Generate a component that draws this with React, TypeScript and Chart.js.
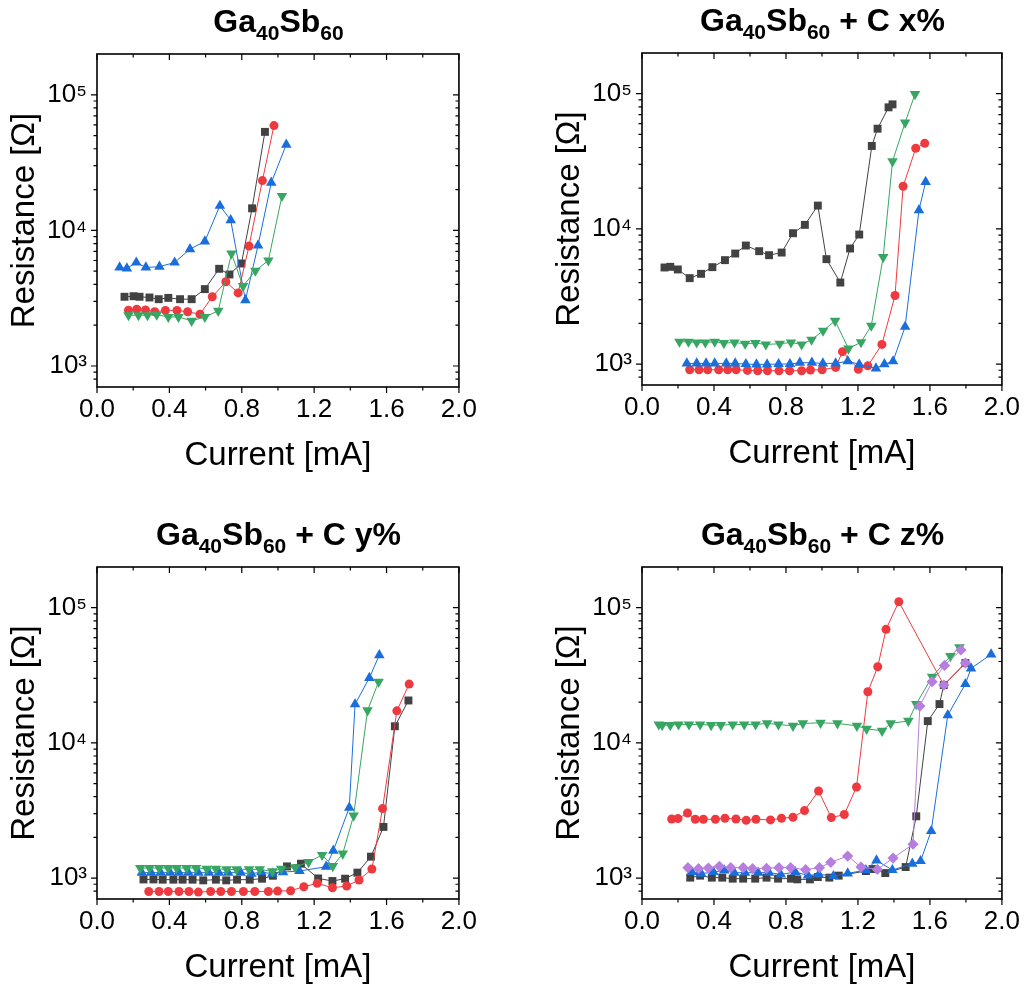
import React, { useEffect, useRef } from 'react';
import { Chart, registerables } from 'chart.js';

Chart.register(...registerables);

const FONT = "'Liberation Sans', Arial, Helvetica, sans-serif";

// ---------- axis definitions ----------
const xMin = 0;
const xMax = 2;
const yMin = 700;
const yMax = 200000;
const xTickValues = [0, 0.4, 0.8, 1.2, 1.6, 2.0];
const xTickLabels = ['0.0', '0.4', '0.8', '1.2', '1.6', '2.0'];
const xMinorTicks = [0.2, 0.6, 1.0, 1.4, 1.8];
const yTickValues = [1000, 10000, 100000];
const yTickLabels = ['10\u00B3', '10\u2074', '10\u2075'];
const yMinorTicks = [800, 900, 2000, 3000, 4000, 5000, 6000, 7000, 8000, 9000,
  20000, 30000, 40000, 50000, 60000, 70000, 80000, 90000];
const xTitle = 'Current [mA]';
const yTitle = 'Resistance [\u03A9]';
const panelTitleSuffix = ['', ' + C x%', ' + C y%', ' + C z%'];

// ---------- Panel A : Ga40Sb60 ----------
const A_black_x = [0.152, 0.202, 0.235, 0.29, 0.341, 0.394, 0.459, 0.523, 0.596, 0.675, 0.732, 0.798, 0.857, 0.928];
const A_black_y = [3240, 3270, 3240, 3200, 3110, 3180, 3110, 3110, 3690, 5210, 4730, 5700, 14550, 53300];
const A_red_x = [0.174, 0.220, 0.268, 0.319, 0.378, 0.442, 0.501, 0.569, 0.637, 0.712, 0.780, 0.840, 0.914, 0.978];
const A_red_y = [2580, 2620, 2590, 2510, 2570, 2570, 2510, 2410, 3240, 4180, 3460, 7660, 23300, 59300];
const A_blue_x = [0.125, 0.165, 0.217, 0.270, 0.345, 0.429, 0.514, 0.596, 0.679, 0.739, 0.820, 0.890, 0.963, 1.046];
const A_blue_y = [5330, 5240, 5800, 5330, 5400, 5800, 7280, 8300, 15200, 11900, 3060, 7750, 22500, 42950];
const A_green_x = [0.174, 0.229, 0.279, 0.330, 0.394, 0.450, 0.523, 0.596, 0.670, 0.743, 0.807, 0.875, 0.947, 1.022];
const A_green_y = [2370, 2370, 2370, 2390, 2300, 2300, 2150, 2300, 2550, 6760, 3880, 5040, 6000, 17950];

// ---------- Panel B : + C x% ----------
const B_black_x = [0.125, 0.157, 0.199, 0.265, 0.328, 0.391, 0.461, 0.518, 0.577, 0.651, 0.706, 0.776, 0.839, 0.905, 0.977, 1.025, 1.102, 1.156, 1.207, 1.277, 1.309, 1.370, 1.392];
const B_black_y = [5180, 5240, 5010, 4320, 4650, 5210, 5870, 6570, 7530, 6840, 6390, 6680, 9290, 10710, 14870, 5970, 4010, 7160, 9080, 41040, 55100, 79280, 83400];
const B_red_x = [0.265, 0.317, 0.365, 0.426, 0.476, 0.523, 0.586, 0.643, 0.697, 0.761, 0.820, 0.887, 0.936, 1.001, 1.076, 1.114, 1.202, 1.255, 1.333, 1.406, 1.451, 1.521, 1.571];
const B_red_y = [908, 908, 908, 908, 908, 908, 897, 893, 893, 893, 893, 893, 903, 908, 945, 1235, 916, 970, 1398, 3215, 20650, 39450, 42950];
const B_blue_x = [0.249, 0.304, 0.356, 0.404, 0.468, 0.518, 0.577, 0.636, 0.695, 0.759, 0.822, 0.877, 0.944, 1.005, 1.076, 1.143, 1.207, 1.300, 1.347, 1.395, 1.462, 1.539, 1.576];
const B_blue_y = [1011, 1011, 1011, 1011, 1011, 1011, 1000, 995, 995, 1000, 1000, 1023, 1023, 1011, 1011, 1050, 995, 928, 998, 1048, 1888, 13740, 22240];
const B_green_x = [0.208, 0.258, 0.304, 0.352, 0.404, 0.455, 0.514, 0.573, 0.630, 0.688, 0.765, 0.828, 0.887, 0.942, 1.006, 1.073, 1.147, 1.217, 1.274, 1.340, 1.392, 1.462, 1.517];
const B_green_y = [1462, 1462, 1445, 1445, 1462, 1429, 1445, 1413, 1429, 1397, 1413, 1445, 1397, 1513, 1763, 2090, 1300, 1450, 1920, 6180, 31620, 61100, 99400];

// ---------- Panel C : + C y% ----------
const C_black_x = [0.257, 0.312, 0.363, 0.422, 0.473, 0.528, 0.587, 0.657, 0.714, 0.774, 0.844, 0.912, 0.972, 1.050, 1.127, 1.222, 1.301, 1.371, 1.439, 1.514, 1.583, 1.646, 1.721];
const C_black_y = [977, 977, 973, 973, 973, 973, 962, 973, 962, 973, 973, 989, 1040, 1219, 1277, 994, 951, 989, 1097, 1440, 2390, 13270, 20590];
const C_red_x = [0.286, 0.343, 0.394, 0.453, 0.508, 0.560, 0.628, 0.684, 0.743, 0.809, 0.872, 0.947, 0.998, 1.070, 1.143, 1.217, 1.301, 1.380, 1.448, 1.519, 1.578, 1.657, 1.725];
const C_red_y = [796, 796, 796, 796, 796, 787, 796, 796, 796, 796, 796, 796, 801, 806, 863, 914, 848, 873, 967, 1166, 3266, 17260, 27230];
const C_blue_x = [0.248, 0.299, 0.352, 0.404, 0.453, 0.505, 0.560, 0.618, 0.673, 0.725, 0.794, 0.853, 0.908, 0.969, 1.028, 1.119, 1.266, 1.306, 1.394, 1.426, 1.505, 1.560];
const C_blue_y = [1096, 1096, 1096, 1096, 1096, 1096, 1096, 1096, 1096, 1096, 1096, 1077, 1107, 1077, 1107, 1127, 1213, 1594, 3319, 19300, 30270, 44580];
const C_green_x = [0.239, 0.290, 0.343, 0.393, 0.440, 0.495, 0.547, 0.606, 0.657, 0.716, 0.771, 0.840, 0.899, 0.969, 1.018, 1.095, 1.169, 1.244, 1.303, 1.358, 1.418, 1.495, 1.556];
const C_green_y = [1186, 1186, 1186, 1186, 1186, 1186, 1186, 1172, 1172, 1159, 1159, 1159, 1159, 1120, 1172, 1200, 1314, 1481, 1227, 1515, 2897, 17390, 28300];

// ---------- Panel D : + C z% ----------
const D_black_x = [0.268, 0.323, 0.388, 0.446, 0.504, 0.562, 0.629, 0.692, 0.756, 0.828, 0.863, 0.933, 0.977, 1.041, 1.093, 1.244, 1.281, 1.352, 1.465, 1.524, 1.588, 1.653, 1.677, 1.797];
const D_black_y = [1007, 1042, 1007, 1007, 990, 990, 990, 1007, 990, 990, 978, 978, 1017, 1007, 1042, 1127, 1166, 1089, 1206, 2864, 14490, 19370, 26760, 38940];
const D_red_x = [0.165, 0.200, 0.253, 0.296, 0.341, 0.408, 0.461, 0.522, 0.579, 0.633, 0.714, 0.775, 0.839, 0.903, 0.981, 1.052, 1.124, 1.192, 1.255, 1.310, 1.356, 1.427, 1.677, 1.797];
const D_red_y = [2735, 2754, 3027, 2722, 2722, 2722, 2768, 2735, 2672, 2722, 2691, 2768, 2818, 3157, 4404, 2800, 2950, 4720, 23880, 36560, 69180, 110700, 26760, 38940];
const D_blue_x = [0.277, 0.329, 0.397, 0.457, 0.513, 0.572, 0.645, 0.706, 0.771, 0.852, 0.922, 0.982, 1.064, 1.143, 1.244, 1.303, 1.391, 1.502, 1.548, 1.607, 1.699, 1.797, 1.828, 1.940];
const D_blue_y = [1108, 1078, 1108, 1140, 1096, 1096, 1096, 1096, 1065, 1108, 1047, 1065, 1035, 1083, 1146, 1352, 1146, 1278, 1337, 2229, 16030, 27240, 35580, 45190];
const D_green_x = [0.093, 0.112, 0.157, 0.203, 0.261, 0.323, 0.384, 0.438, 0.504, 0.568, 0.631, 0.695, 0.758, 0.839, 0.894, 0.992, 1.086, 1.194, 1.248, 1.334, 1.382, 1.480, 1.524, 1.612, 1.714, 1.764];
const D_green_y = [13680, 13520, 13520, 13680, 13680, 13680, 13520, 13520, 13680, 13680, 13680, 13930, 13680, 13360, 13930, 14060, 13930, 13360, 12700, 12280, 13930, 14550, 19370, 30830, 43850, 50830];
const D_purple_x = [0.255, 0.314, 0.369, 0.430, 0.493, 0.562, 0.614, 0.692, 0.761, 0.826, 0.909, 0.986, 1.049, 1.143, 1.217, 1.308, 1.395, 1.506, 1.544, 1.612, 1.681, 1.772];
const D_purple_y = [1194, 1174, 1186, 1221, 1194, 1194, 1174, 1180, 1194, 1194, 1154, 1194, 1307, 1455, 1206, 1159, 1406, 1778, 18710, 28320, 37430, 48630];

// ---------- styles ----------
const COLORS = {
  black: '#424242',
  red: '#EE3A3F',
  blue: '#1A6EDC',
  green: '#38A663',
  purple: '#B57EDF',
};

type Kind = 'black' | 'red' | 'blue' | 'green' | 'purple';
const KIND_STYLE: Record<Kind, { pointStyle: string; radius: number; rotation: number; order: number }> = {
  black: { pointStyle: 'rect', radius: 5.6, rotation: 0, order: 4 },
  red: { pointStyle: 'circle', radius: 4.5, rotation: 0, order: 3 },
  blue: { pointStyle: 'triangle', radius: 6.1, rotation: 0, order: 2 },
  green: { pointStyle: 'triangle', radius: 6.1, rotation: 180, order: 1 },
  purple: { pointStyle: 'rectRot', radius: 5.6, rotation: 0, order: 0 },
};

type Series = { kind: Kind; xs: number[]; ys: number[]; overlayLast?: number };
type PanelSpec = {
  series: Series[];
  titleIdx: number;
  L: number; T: number; R: number; B: number; rowTop: number;
};

const PANELS: PanelSpec[] = [
  {
    titleIdx: 0, L: 97, T: 54, R: 460, B: 387, rowTop: 0,
    series: [
      { kind: 'black', xs: A_black_x, ys: A_black_y },
      { kind: 'red', xs: A_red_x, ys: A_red_y },
      { kind: 'blue', xs: A_blue_x, ys: A_blue_y },
      { kind: 'green', xs: A_green_x, ys: A_green_y },
    ],
  },
  {
    titleIdx: 1, L: 642, T: 53, R: 1003, B: 385, rowTop: 0,
    series: [
      { kind: 'black', xs: B_black_x, ys: B_black_y },
      { kind: 'red', xs: B_red_x, ys: B_red_y },
      { kind: 'blue', xs: B_blue_x, ys: B_blue_y },
      { kind: 'green', xs: B_green_x, ys: B_green_y },
    ],
  },
  {
    titleIdx: 2, L: 97, T: 567, R: 460, B: 899, rowTop: 494,
    series: [
      { kind: 'black', xs: C_black_x, ys: C_black_y },
      { kind: 'red', xs: C_red_x, ys: C_red_y },
      { kind: 'blue', xs: C_blue_x, ys: C_blue_y },
      { kind: 'green', xs: C_green_x, ys: C_green_y },
    ],
  },
  {
    titleIdx: 3, L: 642, T: 567, R: 1003, B: 899, rowTop: 494,
    series: [
      { kind: 'black', xs: D_black_x, ys: D_black_y },
      { kind: 'red', xs: D_red_x, ys: D_red_y, overlayLast: 2 },
      { kind: 'blue', xs: D_blue_x, ys: D_blue_y },
      { kind: 'green', xs: D_green_x, ys: D_green_y },
      { kind: 'purple', xs: D_purple_x, ys: D_purple_y },
    ],
  },
];

const Y_AXIS_W = 97;
const X_AXIS_H = 89;
const PAD_RIGHT = 24;

const frameTicksPlugin = {
  id: 'frameTicks',
  afterDraw(chart: any) {
    const { ctx, chartArea: a, scales } = chart;
    const xs = scales.x;
    const ys = scales.y;
    const MAJ = 6;
    const MIN = 3.5;
    ctx.save();
    ctx.strokeStyle = '#000';
    ctx.lineWidth = 1.2;
    ctx.beginPath();
    const xTick = (v: number, len: number) => {
      const p = xs.getPixelForValue(v);
      ctx.moveTo(p, a.bottom);
      ctx.lineTo(p, a.bottom + len);
      ctx.moveTo(p, a.top);
      ctx.lineTo(p, a.top + len);
    };
    const yTick = (v: number, len: number) => {
      const p = ys.getPixelForValue(v);
      ctx.moveTo(a.left, p);
      ctx.lineTo(a.left - len, p);
      ctx.moveTo(a.right, p);
      ctx.lineTo(a.right - len, p);
    };
    xTickValues.forEach((v) => xTick(v, MAJ));
    xMinorTicks.forEach((v) => xTick(v, MIN));
    yTickValues.forEach((v) => yTick(v, MAJ));
    yMinorTicks.forEach((v) => yTick(v, MIN));
    ctx.stroke();
    ctx.lineWidth = 1.6;
    ctx.strokeRect(a.left, a.top, a.right - a.left, a.bottom - a.top);
    ctx.restore();
  },
};

function buildDataset(s: Series) {
  const st = KIND_STYLE[s.kind];
  const color = COLORS[s.kind];
  const n = s.xs.length;
  const over = s.overlayLast || 0;
  const pointStyle = s.xs.map((_, i) => (i >= n - over ? 'rectRot' : st.pointStyle));
  const pointColor = s.xs.map((_, i) => (i >= n - over ? COLORS.purple : color));
  const pointRadius = s.xs.map((_, i) => (i >= n - over ? KIND_STYLE.purple.radius : st.radius));
  return {
    label: s.kind,
    data: s.xs.map((x, i) => ({ x, y: s.ys[i] })),
    borderColor: color,
    backgroundColor: color,
    borderWidth: 1,
    pointStyle,
    pointRadius,
    pointHoverRadius: pointRadius,
    pointBackgroundColor: pointColor,
    pointBorderColor: pointColor,
    pointBorderWidth: 0,
    pointRotation: st.rotation,
    tension: 0,
    order: st.order,
    fill: false,
  };
}

function Panel({ spec }: { spec: PanelSpec }) {
  const ref = useRef<HTMLCanvasElement>(null);
  const canvasLeft = spec.L - Y_AXIS_W;
  const canvasTop = spec.rowTop;
  const W = spec.R - canvasLeft + PAD_RIGHT;
  const H = spec.B - canvasTop + X_AXIS_H;
  const padTop = spec.T - canvasTop;

  useEffect(() => {
    if (!ref.current) return;
    const chart = new Chart(ref.current, {
      type: 'line',
      data: { datasets: spec.series.map(buildDataset) as any },
      options: {
        responsive: false,
        animation: false,
        devicePixelRatio: 1,
        events: [],
        layout: { padding: { left: 0, top: padTop, right: PAD_RIGHT, bottom: 0 } },
        plugins: {
          legend: { display: false },
          tooltip: { enabled: false },
          title: { display: false },
        },
        scales: {
          x: {
            type: 'linear',
            min: xMin,
            max: xMax,
            afterFit: (s: any) => { s.height = X_AXIS_H; },
            afterBuildTicks: (s: any) => { s.ticks = xTickValues.map((v) => ({ value: v })); },
            grid: { display: false, drawTicks: false },
            border: { display: false },
            ticks: {
              autoSkip: false,
              maxRotation: 0,
              padding: 7,
              color: '#000',
              font: { family: FONT, size: 26 },
              callback: (_v: any, i: number) => xTickLabels[i],
            },
            title: {
              display: true,
              text: xTitle,
              color: '#000',
              font: { family: FONT, size: 33 },
              padding: { top: 0, bottom: 0 },
            },
          },
          y: {
            type: 'logarithmic',
            min: yMin,
            max: yMax,
            afterFit: (s: any) => { s.width = Y_AXIS_W; },
            afterBuildTicks: (s: any) => { s.ticks = yTickValues.map((v) => ({ value: v })); },
            grid: { display: false, drawTicks: false },
            border: { display: false },
            ticks: {
              autoSkip: false,
              padding: 10,
              color: '#000',
              font: { family: FONT, size: 26 },
              callback: (_v: any, i: number) => yTickLabels[i],
            },
            title: {
              display: true,
              text: yTitle,
              color: '#000',
              font: { family: FONT, size: 33 },
              padding: { top: 5.5, bottom: 0 },
            },
          },
        },
      } as any,
      plugins: [frameTicksPlugin],
    });
    return () => chart.destroy();
  }, []);

  const centerX = (spec.L + spec.R) / 2;
  const baseline = spec.T - 22;
  const subStyle: React.CSSProperties = {
    fontSize: 21,
    verticalAlign: 'baseline',
    position: 'relative',
    top: 8,
  };

  return (
    <>
      <canvas
        ref={ref}
        width={W}
        height={H}
        style={{ position: 'absolute', left: canvasLeft, top: canvasTop, width: W, height: H }}
      />
      <div
        style={{
          position: 'absolute',
          left: centerX,
          top: baseline - 26.8,
          transform: 'translateX(-50%)',
          fontFamily: FONT,
          fontWeight: 'bold',
          fontSize: 32,
          lineHeight: '32px',
          whiteSpace: 'nowrap',
          color: '#000',
        }}
      >
        Ga<sub style={subStyle}>40</sub>Sb<sub style={subStyle}>60</sub>
        {panelTitleSuffix[spec.titleIdx]}
      </div>
    </>
  );
}

export default function App() {
  return (
    <div
      style={{
        position: 'absolute',
        left: 0,
        top: 0,
        width: 1027,
        height: 988,
        overflow: 'hidden',
        background: '#fff',
      }}
    >
      {PANELS.map((p, i) => (
        <Panel key={i} spec={p} />
      ))}
    </div>
  );
}
